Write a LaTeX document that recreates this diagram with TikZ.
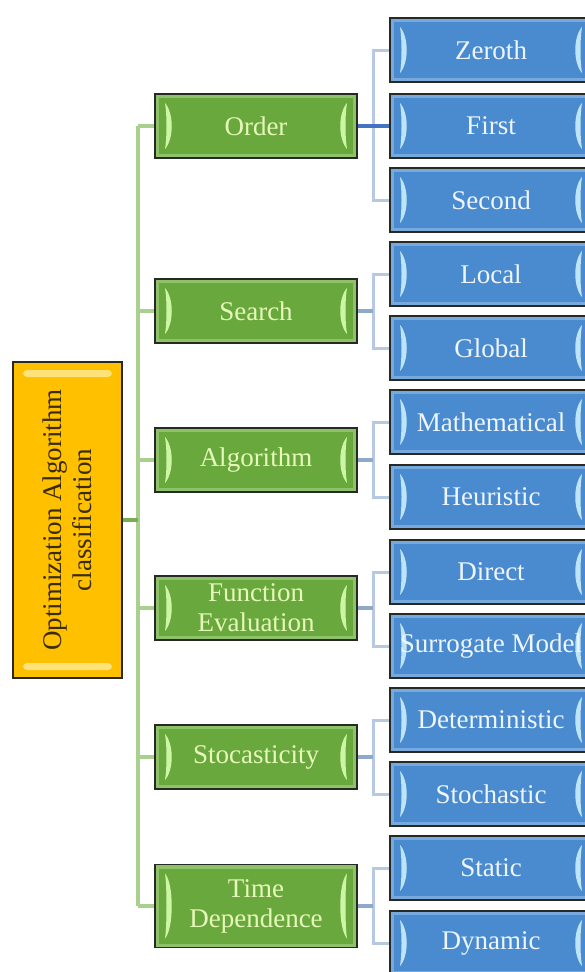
\documentclass[tikz,border=0pt]{standalone}
\usepackage{fontspec}
\setmainfont{Liberation Serif}
\usetikzlibrary{backgrounds}
\definecolor{grnmain}{HTML}{69A83C}
\definecolor{grnrim}{HTML}{8DC26A}
\definecolor{grnhl}{HTML}{CDF5A6}
\definecolor{grntext}{HTML}{E6F8BA}
\definecolor{blumain}{HTML}{4A8BD0}
\definecolor{blurim}{HTML}{78A9DE}
\definecolor{bluhl}{HTML}{BDE4F8}
\definecolor{blutext}{HTML}{EEF5FC}
\definecolor{orgmain}{HTML}{FFC000}
\definecolor{orghl}{HTML}{FFE27A}
\definecolor{orgtext}{HTML}{3A2C00}
\definecolor{trunkcol}{HTML}{A9D08E}
\definecolor{rootcol}{HTML}{79AE57}
\definecolor{stemcol}{HTML}{8EA9CC}
\definecolor{branchcol}{HTML}{B7C9E2}
\definecolor{maincol}{HTML}{4473C4}
\definecolor{edgecol}{HTML}{262A22}
\newcommand{\boxfont}{\fontsize{27}{30}\selectfont}
% bevel: lighter rim, inner face, and two crescent highlights
\tikzset{
  bevelface/.style 2 args={
    path picture={
      \fill[#1] ([shift={(4pt,-4pt)}]path picture bounding box.north west)
        rectangle ([shift={(-4pt,4pt)}]path picture bounding box.south east);
      \fill[#2] ([shift={(10pt,-9pt)}]path picture bounding box.north west)
        .. controls +(2pt,-12pt) and +(2pt,12pt) .. ([shift={(10pt,9pt)}]path picture bounding box.south west)
        .. controls +(9pt,10pt) and +(9pt,-10pt) .. cycle;
      \fill[#2] ([shift={(-10pt,-9pt)}]path picture bounding box.north east)
        .. controls +(-2pt,-12pt) and +(-2pt,12pt) .. ([shift={(-10pt,9pt)}]path picture bounding box.south east)
        .. controls +(-9pt,10pt) and +(-9pt,-10pt) .. cycle;
    }},
  catbox/.style={draw=edgecol, line width=1.5pt, fill=grnrim,
    bevelface={grnmain}{grnhl}, minimum width=202pt, minimum height=64pt,
    inner sep=0pt, text=grntext, font=\boxfont, align=center},
  leafbox/.style={draw=edgecol, line width=1.5pt, fill=blurim,
    bevelface={blumain}{bluhl}, minimum width=202pt, minimum height=64pt,
    inner sep=0pt, text=blutext, font=\boxfont, align=center},
  rootbox/.style={draw=edgecol, line width=1.5pt, fill=orgmain,
    minimum width=109pt, minimum height=316pt, inner sep=0pt,
    path picture={
      \fill[orghl, rounded corners=4pt]
        ([shift={(10pt,-8pt)}]path picture bounding box.north west)
        rectangle ([shift={(-10pt,-15pt)}]path picture bounding box.north east);
      \fill[orghl, rounded corners=4pt]
        ([shift={(10pt,8pt)}]path picture bounding box.south west)
        rectangle ([shift={(-10pt,15pt)}]path picture bounding box.south east);
    }},
  trunkline/.style={draw=trunkcol, line width=3.6pt},
  rootline/.style={draw=rootcol, line width=3.6pt},
  stemline/.style={draw=stemcol, line width=3.6pt},
  branchline/.style={draw=branchcol, line width=3pt},
  mainline/.style={draw=maincol, line width=3.8pt},
}
\begin{document}
\begin{tikzpicture}[x=1pt, y=-1pt]
\clip (0,0) rectangle (585,972);

% x positions of the connector rails
\coordinate (ttop) at (138,126);
\coordinate (tbot) at (138,906);
\coordinate (rail) at (373,0);

% root
\node[rootbox] (root) at (67.5,520) {};
\node[rotate=90, text=orgtext, font=\boxfont, align=center] (roottext) at (root.center)
  {Optimization Algorithm\\classification};

% categories
\node[catbox] (g1) at (256,126) {Order};
\node[catbox] (g2) at (256,311) {Search};
\node[catbox] (g3) at (256,460) {Algorithm};
\node[catbox] (g4) at (256,608) {Function\\Evaluation};
\node[catbox] (g5) at (256,757) {Stocasticity};
\node[catbox, minimum height=83pt] (g6) at (256,906) {Time\\Dependence};

% leaves
\node[leafbox] (b1)  at (491,50)  {Zeroth};
\node[leafbox] (b2)  at (491,126) {First};
\node[leafbox] (b3)  at (491,200) {Second};
\node[leafbox] (b4)  at (491,274) {Local};
\node[leafbox] (b5)  at (491,348) {Global};
\node[leafbox] (b6)  at (491,422) {Mathematical};
\node[leafbox] (b7)  at (491,497) {Heuristic};
\node[leafbox] (b8)  at (491,572) {Direct};
\node[leafbox] (b9)  at (491,646) {Surrogate Model};
\node[leafbox] (b10) at (491,720) {Deterministic};
\node[leafbox] (b11) at (491,794) {Stochastic};
\node[leafbox] (b12) at (491,868) {Static};
\node[leafbox] (b13) at (491,943) {Dynamic};

\begin{scope}[on background layer]
  \fill[white] (0,0) rectangle (585,972);

  % trunk from the root to the categories
  \draw[trunkline] (ttop) -- (tbot);
  \foreach \g in {g1,g2,g3,g4,g5,g6}
    \draw[trunkline] (\g.west) -- (\g.west -| ttop);
  \draw[rootline] (root.east) -- (root.east -| ttop);

  % Order: three leaves, the middle one on a straight line
  \draw[branchline] (b1.west) -- (b1.west -| rail) -- (b3.west -| rail) -- (b3.west);
  \draw[mainline] (g1.east) -- (b2.west);

  % the other categories: two leaves each
  \foreach \g/\u/\l in {g2/b4/b5, g3/b6/b7, g4/b8/b9, g5/b10/b11, g6/b12/b13} {
    \draw[branchline] (\u.west) -- (\u.west -| rail) -- (\l.west -| rail) -- (\l.west);
    \draw[stemline] (\g.east) -- (\g.east -| rail);
  }
\end{scope}
\end{tikzpicture}
\end{document}
